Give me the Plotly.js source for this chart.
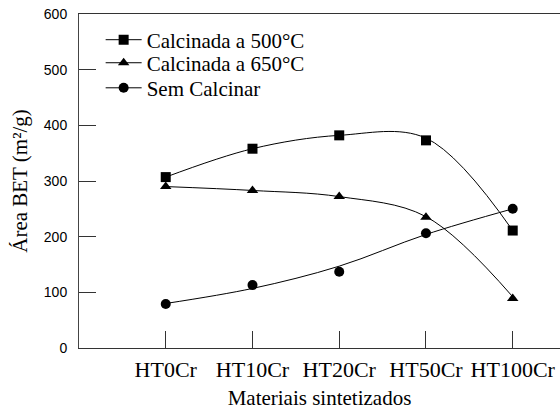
<!DOCTYPE html>
<html>
<head>
<meta charset="utf-8">
<script src="https://cdn.plot.ly/plotly-3.0.1.min.js"></script>
<style>html,body{margin:0;padding:0;background:#fff;}#chart{width:560px;height:410px;}</style>
</head>
<body>
<div id="chart"></div>
<script>
// Categories (x axis)
var categories = ['HT0Cr', 'HT10Cr', 'HT20Cr', 'HT50Cr', 'HT100Cr'];

// Measured points (BET area, m²/g)
var cal500 = [307, 358, 382, 373, 211];
var cal650 = [290, 283, 272, 235, 89];
var semCalc = [79, 113, 137, 206, 250];

// Fitted curves as drawn in the picture (values read at each category)
var cal500Curve = [307, 358, 382, 377, 211];
var cal650Curve = [290, 283, 272, 236, 92];
var semCalcCurve = [80, 107, 147, 204, 250];

// Series names
var names = ['Calcinada a 500°C', 'Calcinada a 650°C', 'Sem Calcinar'];
var symbols = ['square', 'triangle-up', 'circle'];
var sizes = [10, 10, 10];

var yTicks = [0, 100, 200, 300, 400, 500, 600];

var points = [cal500, cal650, semCalc];
var curves = [cal500Curve, cal650Curve, semCalcCurve];
var legendIds = ['legend', 'legend2', 'legend3'];

var traces = [];
for (var i = 0; i < 3; i++) {
  traces.push({
    x: categories, y: curves[i], type: 'scatter', mode: 'lines',
    line: {color: '#000', width: 1, shape: 'spline', smoothing: 1},
    showlegend: false, hoverinfo: 'skip'
  });
  traces.push({
    x: categories, y: points[i], type: 'scatter', mode: 'markers',
    marker: {symbol: symbols[i], size: sizes[i], color: '#000'},
    showlegend: false
  });
}
// legend entries (line + marker), one small legend each
for (var j = 0; j < 3; j++) {
  traces.push({
    x: [null], y: [null], type: 'scatter', mode: 'lines+markers', name: names[j],
    legend: legendIds[j],
    line: {color: '#000', width: 1},
    marker: {symbol: symbols[j], size: sizes[j], color: '#000'}
  });
}

var serif = 'Liberation Serif';
function legendBox(yPos) {
  return {
    x: 0.045, y: yPos, xanchor: 'left', yanchor: 'middle',
    bgcolor: 'rgba(0,0,0,0)', borderwidth: 0,
    font: {family: serif, size: 21, color: '#000'},
    itemwidth: 36
  };
}

var layout = {
  width: 560, height: 410,
  margin: {l: 79, r: 0, t: 14, b: 62},
  paper_bgcolor: '#fff', plot_bgcolor: '#fff',
  font: {family: serif, size: 20, color: '#000'},
  showlegend: true,
  legend: legendBox(0.922),
  legend2: legendBox(0.853),
  legend3: legendBox(0.778),
  xaxis: {
    type: 'category', range: [-1, 4.545],
    showline: true, linecolor: '#333', linewidth: 1, mirror: true,
    ticks: 'inside', ticklen: 17, tickcolor: '#333', tickwidth: 1,
    showgrid: false, zeroline: false,
    tickfont: {family: serif, size: 22, color: '#000'},
    ticklabelstandoff: 2,
    title: {text: 'Materiais sintetizados', font: {family: serif, size: 21, color: '#000'}, standoff: 13},
    automargin: false, fixedrange: true
  },
  yaxis: {
    range: [0, 600], tickvals: yTicks, ticktext: yTicks.map(String),
    showline: true, linecolor: '#444', linewidth: 1,
    ticks: 'inside', ticklen: 17, tickcolor: '#333', tickwidth: 1,
    showgrid: false, zeroline: false,
    tickfont: {family: 'Liberation Sans', size: 14, color: '#000'},
    ticklabelstandoff: 8,
    title: {text: 'Área BET (m²/g)', font: {family: serif, size: 21, color: '#000'}, standoff: 10},
    automargin: false, fixedrange: true
  }
};

Plotly.newPlot('chart', traces, layout, {displayModeBar: false, staticPlot: true});
</script>
</body>
</html>
